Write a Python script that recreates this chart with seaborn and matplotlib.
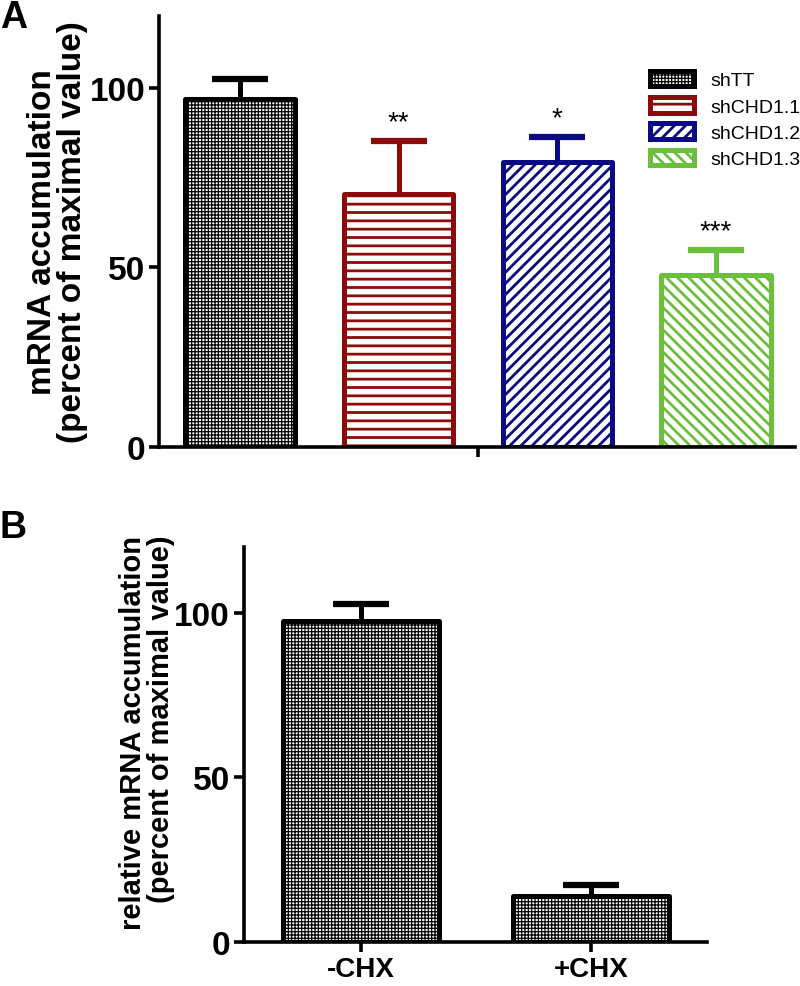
import matplotlib
matplotlib.use('Agg')
import matplotlib.pyplot as plt
import seaborn as sns
from matplotlib.font_manager import fontManager

sns.set_style('ticks')
names = {f.name for f in fontManager.ttflist}
main_font = 'Liberation Sans Narrow' if 'Liberation Sans Narrow' in names else 'Liberation Sans'
plt.rcParams['font.family'] = [main_font, 'Liberation Sans', 'DejaVu Sans']
plt.rcParams['hatch.linewidth'] = 2.0
for k in ['text.color', 'axes.labelcolor', 'xtick.color', 'ytick.color', 'axes.edgecolor']:
    plt.rcParams[k] = 'black'

# Panel A data
groups_a = ['shTT', 'shCHD1.1', 'shCHD1.2', 'shCHD1.3']
values_a = [96.9, 70.5, 79.4, 47.9]
err_a = [5.6, 14.7, 7.0, 7.0]
stars_a = ['', '**', '*', '***']
colors_a = ['black', '#8b0a0a', '#0a0a85', '#6cbf3a']
hatches_a = ['+++++', '--', '///', '\\\\\\']

# Panel B data
groups_b = ['-CHX', '+CHX']
values_b = [97.6, 13.9]
err_b = [5.1, 3.4]

fig = plt.figure(figsize=(8, 9.87), dpi=100)
axA = fig.add_axes([0.199, 0.546, 0.795, 0.437])
axB = fig.add_axes([0.305, 0.0446, 0.579, 0.4004])


def thin_checker(p, h):
    if h.startswith('+') and hasattr(p, 'set_hatch_linewidth'):
        p.set_hatch_linewidth(0.9)


def style_bars(ax, edgecolors, hatches):
    for p, ec, h in zip(ax.patches, edgecolors, hatches):
        p.set_facecolor('white')
        p.set_edgecolor(ec)
        p.set_hatch(h)
        p.set_linewidth(3.6)
        p.set_joinstyle('round')
        thin_checker(p, h)


def add_errors(ax, vals, errs, colors):
    for p, v, e, c in zip(ax.patches, vals, errs, colors):
        xc = p.get_x() + p.get_width() / 2
        _, caps, _ = ax.errorbar(xc, v, yerr=[[0], [e]], color=c, elinewidth=3.6,
                                 capsize=20, capthick=4.5, zorder=1)
        # only the upper cap is shown
        caps[0].set_visible(False)


def style_axis(ax):
    sns.despine(ax=ax)
    for s in ['left', 'bottom']:
        ax.spines[s].set_linewidth(2.6)
    ax.tick_params(axis='both', width=2.6, length=7, labelsize=24, pad=3)
    for lab in ax.get_yticklabels() + ax.get_xticklabels():
        lab.set_fontweight('bold')


# ---- Panel A ----
sns.barplot(x=groups_a, y=values_a, ax=axA, color='white', saturation=1,
            width=0.69, errorbar=None, zorder=2)
style_bars(axA, colors_a, hatches_a)
add_errors(axA, values_a, err_a, colors_a)
for p, v, e, s in zip(axA.patches, values_a, err_a, stars_a):
    if s:
        axA.text(p.get_x() + p.get_width() / 2, v + e + 1.5, s, ha='center',
                 va='bottom', fontsize=20, family='Liberation Sans')
axA.set_ylim(0, 120)
axA.set_xlim(-0.51, 3.5)
axA.set_yticks([0, 50, 100])
axA.set_xticks([1.5])
axA.set_xticklabels([''])
style_axis(axA)
axA.set_ylabel('mRNA accumulation\n(percent of maximal value)', fontsize=24,
               fontweight='bold', family='Liberation Sans', linespacing=0.95)
axA.yaxis.set_label_coords(-0.112, 0.5)

handles = []
for c, h in zip(colors_a, hatches_a):
    hp = matplotlib.patches.Patch(facecolor='white', edgecolor=c, hatch=h,
                                  linewidth=3.6, joinstyle='round')
    thin_checker(hp, h)
    handles.append(hp)
leg = fig.legend(handles, groups_a, loc='upper left', bbox_to_anchor=(0.80, 0.937),
                 frameon=False, borderpad=0, handlelength=2.3,
                 handleheight=0.85, labelspacing=0.4, handletextpad=0.8,
                 prop={'family': 'Liberation Sans', 'size': 14})
for lp, h in zip(leg.get_patches(), hatches_a):
    thin_checker(lp, h)

# ---- Panel B ----
sns.barplot(x=groups_b, y=values_b, ax=axB, color='white', saturation=1,
            width=0.68, errorbar=None, zorder=2)
style_bars(axB, ['black', 'black'], ['+++++', '+++++'])
add_errors(axB, values_b, err_b, ['black', 'black'])
axB.set_ylim(0, 120)
axB.set_xlim(-0.509, 1.504)
axB.set_yticks([0, 50, 100])
style_axis(axB)
axB.tick_params(axis='x', labelsize=20)
axB.set_ylabel('relative mRNA accumulation\n(percent of maximal value)',
               fontsize=21, fontweight='bold', family='Liberation Sans',
               linespacing=1.0, multialignment='right')
axB.yaxis.set_label_coords(-0.15, 0.532)

fig.text(0.0, 1.0, 'A', ha='left', va='top', fontsize=27, fontweight='bold',
         family='Liberation Sans')
fig.text(0.0, 1 - 510 / 987, 'B', ha='left', va='top', fontsize=27,
         fontweight='bold', family='Liberation Sans')

fig.savefig('out.png', dpi=100)
